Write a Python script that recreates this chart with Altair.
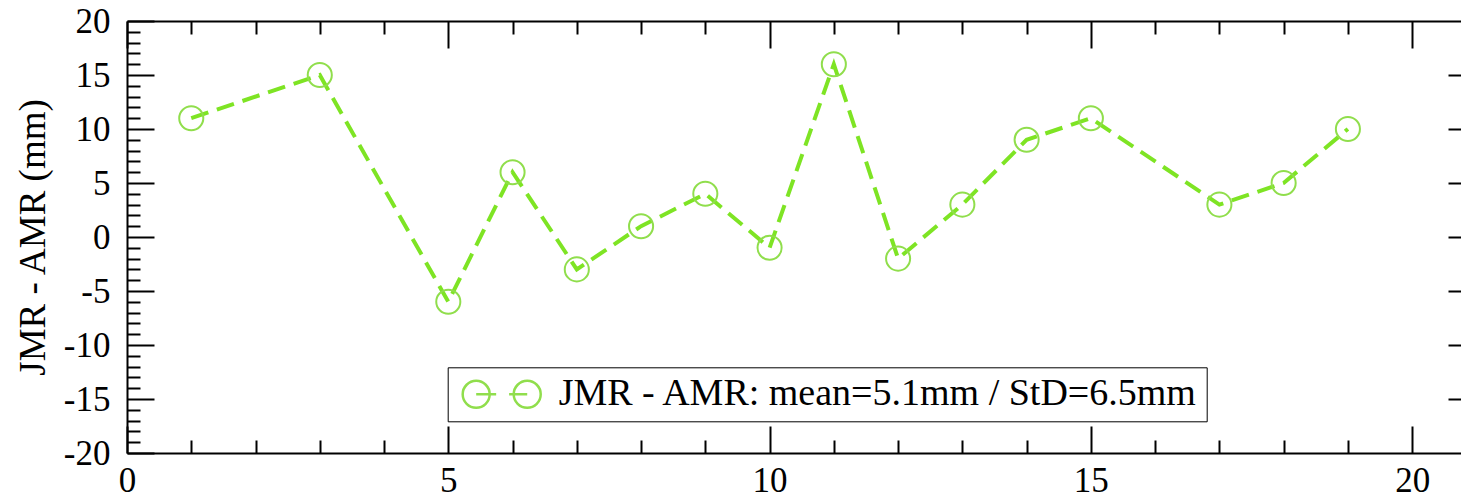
import altair as alt
import pandas as pd

# ---- data ----
run = [1, 3, 5, 6, 7, 8, 9, 10, 11, 12, 13, 14, 15, 17, 18, 19]
diff = [11, 15, -6, 6, -3, 1, 4, -1, 16, -2, 3, 9, 11, 3, 5, 10]
series_name = "JMR - AMR: mean=5.1mm / StD=6.5mm"
y_title = "JMR - AMR (mm)"
x_ticks = list(range(0, 21))
y_ticks = list(range(-20, 21))
y_right_ticks = [-15, -10, -5, 0, 5, 10, 15]
x_domain = [0, 20.76]
y_domain = [-20, 20]

df = pd.DataFrame({"run": run, "diff": diff, "series": [series_name] * len(run)})

FONT = "'Liberation Serif', 'Times New Roman', Times, 'DejaVu Serif', serif"
LINE = "#7ee424"
MARK = "#90de4c"
tick_expr = "datum.value % 5 === 0 ? -27 : -13"
label_expr = "datum.value % 5 === 0 ? toString(datum.value) : ''"

xs = alt.Scale(domain=x_domain, nice=False, zero=False)
ys = alt.Scale(domain=y_domain, nice=False, zero=False)

common_axis = dict(grid=False, domainColor="black", domainWidth=2, tickColor="black",
                   tickWidth=2, labelFont=FONT, labelColor="black", labelFontSize=35,
                   labelFlush=False, labelOverlap=False)

line = alt.Chart(df).mark_line(strokeDash=[18, 9], strokeWidth=4, color=LINE).encode(
    x=alt.X("run:Q", scale=xs, axis=alt.Axis(
        orient="bottom", values=x_ticks, tickSize=alt.ExprRef(expr=tick_expr),
        labelExpr=label_expr, labelPadding=37, labelBaseline="top", title=None, **common_axis)),
    y=alt.Y("diff:Q", scale=ys, axis=alt.Axis(
        orient="left", values=y_ticks, tickSize=alt.ExprRef(expr=tick_expr),
        labelExpr=label_expr, labelPadding=44, title=y_title, titleFont=FONT,
        titleFontSize=37, titleFontWeight="normal", titleColor="black",
        titleX=-94, titleY=216, titleAngle=270, titleAlign="center",
        titleBaseline="middle", **common_axis)),
)

legend_path = ("M-2.89,0A1,1,0,1,0,-0.89,0A1,1,0,1,0,-2.89,0"
               "M0.89,0A1,1,0,1,0,2.89,0A1,1,0,1,0,0.89,0"
               "M-1.89,0L-0.41,0M0.55,0L1.89,0")

points = alt.Chart(df).mark_point(filled=False, size=580, strokeWidth=2, opacity=1).encode(
    x=alt.X("run:Q", scale=xs, axis=alt.Axis(
        orient="top", values=x_ticks, tickSize=alt.ExprRef(expr=tick_expr),
        labels=False, title=None, grid=False, domainColor="black", domainWidth=2,
        tickColor="black", tickWidth=2)),
    y=alt.Y("diff:Q", scale=ys, axis=alt.Axis(
        orient="right", values=y_right_ticks, tickSize=alt.ExprRef(expr="-13"),
        labels=False, title=None, grid=False, domain=False,
        tickColor="black", tickWidth=2)),
    color=alt.Color("series:N", scale=alt.Scale(domain=[series_name], range=[MARK]),
                    legend=alt.Legend(
                        title=None, orient="none", legendX=320.7, legendY=346.3,
                        symbolType=legend_path, symbolSize=729, symbolStrokeWidth=2.5,
                        symbolFillColor="transparent", symbolStrokeColor=MARK,
                        symbolOffset=27, labelOffset=38, labelFont=FONT,
                        labelFontSize=38, labelColor="black", labelLimit=2000,
                        padding=8, strokeColor="black", fillColor="white")),
)

chart = alt.layer(line, points).resolve_axis(x="independent", y="independent").properties(
    width=1334, height=432,
    autosize=alt.AutoSizeParams(type="none"),
    padding={"left": 127, "top": 21, "right": 0, "bottom": 47},
    background="white",
).configure(font=FONT).configure_view(stroke=None)

chart.save("out.html", embed_options={"renderer": "svg", "actions": False})
